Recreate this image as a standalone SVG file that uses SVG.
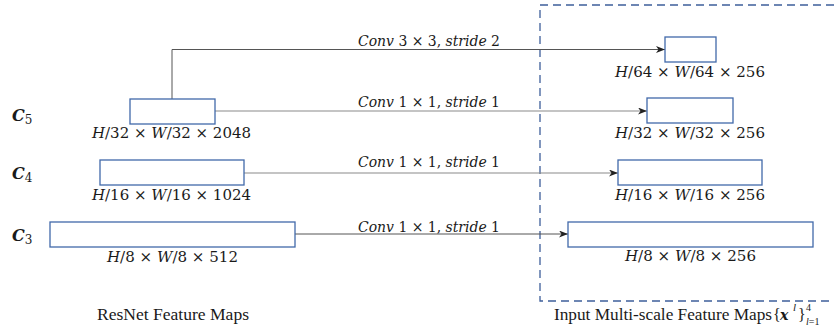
<svg xmlns="http://www.w3.org/2000/svg" width="834" height="328" viewBox="0 0 834 328">
<style>
.box{fill:#fff;stroke:#4169AA;stroke-width:1.3}
.ln{fill:none;stroke:#555;stroke-width:1}
.lt{fill:none;stroke:#8a8a8a;stroke-width:1.2}
.t{font-family:"DejaVu Serif","Liberation Serif",serif;font-size:14px;fill:#1a1a1a}
.i{font-style:italic}
.c{font-family:"DejaVu Serif","Liberation Serif",serif;font-size:16px;fill:#1a1a1a}
.cap{font-family:"Liberation Serif","DejaVu Serif",serif;font-size:16px;fill:#1a1a1a}
</style>
<defs>
<marker id="arr" markerWidth="10" markerHeight="8" refX="9" refY="3.5" orient="auto" markerUnits="userSpaceOnUse">
<path d="M0,0 L9,3.5 L0,7 L2.5,3.5 Z" fill="#222"/>
</marker>
</defs>
<path d="M834,5 H540 V301 H834" fill="none" stroke="#3E5F9A" stroke-width="1.3" stroke-dasharray="8,5"/>
<g id="connectors">
<path class="ln" d="M172,99 V49.5 H665" marker-end="url(#arr)"/>
<path class="lt" d="M215,111 H647" marker-end="url(#arr)"/>
<path class="lt" d="M244,173 H618" marker-end="url(#arr)"/>
<path class="ln" d="M295,234 H568" marker-end="url(#arr)"/>
<text class="t" x="358" y="46" textLength="142" lengthAdjust="spacingAndGlyphs"><tspan class="i">Conv</tspan> 3 × 3, <tspan class="i">stride</tspan> 2</text>
<text class="t" x="358" y="107" textLength="142" lengthAdjust="spacingAndGlyphs"><tspan class="i">Conv</tspan> 1 × 1, <tspan class="i">stride</tspan> 1</text>
<text class="t" x="358" y="167" textLength="142" lengthAdjust="spacingAndGlyphs"><tspan class="i">Conv</tspan> 1 × 1, <tspan class="i">stride</tspan> 1</text>
<text class="t" x="358" y="232" textLength="142" lengthAdjust="spacingAndGlyphs"><tspan class="i">Conv</tspan> 1 × 1, <tspan class="i">stride</tspan> 1</text>
</g>
<g id="c5">
<text class="c" x="12" y="121"><tspan font-weight="bold" font-style="italic">C</tspan><tspan font-size="12" dy="3">5</tspan></text>
<rect class="box" x="130" y="99" width="85" height="25"/>
<text class="t" x="92" y="138" textLength="159" lengthAdjust="spacingAndGlyphs"><tspan class="i">H</tspan>/32 × <tspan class="i">W</tspan>/32 × 2048</text>
</g>
<g id="c4">
<text class="c" x="12" y="179"><tspan font-weight="bold" font-style="italic">C</tspan><tspan font-size="12" dy="3">4</tspan></text>
<rect class="box" x="100" y="160" width="144" height="25"/>
<text class="t" x="92" y="200" textLength="159" lengthAdjust="spacingAndGlyphs"><tspan class="i">H</tspan>/16 × <tspan class="i">W</tspan>/16 × 1024</text>
</g>
<g id="c3">
<text class="c" x="12" y="241"><tspan font-weight="bold" font-style="italic">C</tspan><tspan font-size="12" dy="3">3</tspan></text>
<rect class="box" x="50" y="222" width="245" height="25"/>
<text class="t" x="107" y="262" textLength="131" lengthAdjust="spacingAndGlyphs"><tspan class="i">H</tspan>/8 × <tspan class="i">W</tspan>/8 × 512</text>
</g>
<g id="x4">
<rect class="box" x="665" y="37" width="51" height="25"/>
<text class="t" x="615" y="77" textLength="150" lengthAdjust="spacingAndGlyphs"><tspan class="i">H</tspan>/64 × <tspan class="i">W</tspan>/64 × 256</text>
</g>
<g id="x3">
<rect class="box" x="647" y="98" width="86" height="25"/>
<text class="t" x="615" y="138" textLength="150" lengthAdjust="spacingAndGlyphs"><tspan class="i">H</tspan>/32 × <tspan class="i">W</tspan>/32 × 256</text>
</g>
<g id="x2">
<rect class="box" x="618" y="160" width="144" height="25"/>
<text class="t" x="615" y="200" textLength="150" lengthAdjust="spacingAndGlyphs"><tspan class="i">H</tspan>/16 × <tspan class="i">W</tspan>/16 × 256</text>
</g>
<g id="x1">
<rect class="box" x="568" y="222" width="245" height="25"/>
<text class="t" x="625" y="261" textLength="131" lengthAdjust="spacingAndGlyphs"><tspan class="i">H</tspan>/8 × <tspan class="i">W</tspan>/8 × 256</text>
</g>
<g id="captions">
<text class="cap" x="97" y="320" textLength="152" lengthAdjust="spacingAndGlyphs">ResNet Feature Maps</text>
<text class="cap" y="320"><tspan x="554" textLength="218" lengthAdjust="spacingAndGlyphs">Input Multi-scale Feature Maps</tspan><tspan x="773">{</tspan><tspan x="780" font-family="DejaVu Serif, serif" font-size="14" font-weight="bold" font-style="italic">x</tspan><tspan x="793" y="311" font-style="italic" font-size="11">l</tspan><tspan x="798" y="320">}</tspan><tspan x="806" y="311" font-size="10">4</tspan><tspan x="806" y="325" font-size="10"><tspan font-style="italic">l</tspan>=1</tspan></text>
</g>
</svg>
